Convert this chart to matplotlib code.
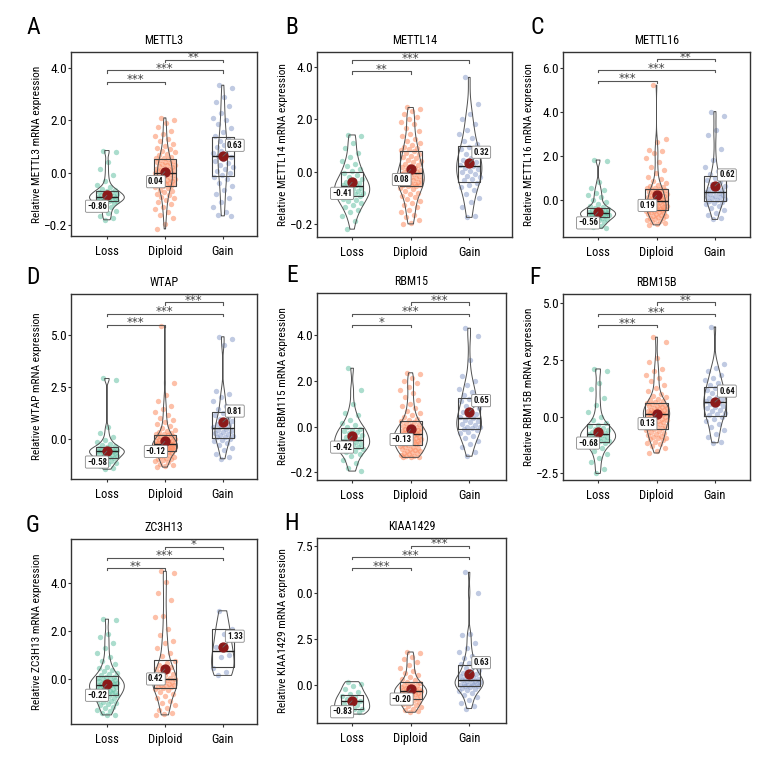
import numpy as np
import matplotlib
matplotlib.use("Agg")
import matplotlib.pyplot as plt
import matplotlib.font_manager as fm

# ---------------- data ----------------
groups = ["Loss", "Diploid", "Gain"]
genes = ["METTL3", "METTL14", "METTL16", "WTAP", "RBM15", "RBM15B", "ZC3H13", "KIAA1429"]
letters = ["A", "B", "C", "D", "E", "F", "G", "H"]
ylabels = ["Relative METTL3 mRNA expression", "Relative METTL14 mRNA expression",
           "Relative METTL16 mRNA expression", "Relative WTAP mRNA expression",
           "Relative RBM115 mRNA expression", "Relative RBM15B mRNA expression",
           "Relative ZC3H13 mRNA expression", "Relative KIAA1429 mRNA expression"]

METTL3_loss = [0.85, 0.78, 0.42, 0.15, -0.1, -0.3, -0.45, -0.55, -0.62, -0.66, -0.69, -0.72, -0.75, -0.78,
               -0.8, -0.83, -0.86, -0.88, -0.9, -0.92, -0.93, -0.95, -0.97, -0.99, -1.01, -1.03, -1.05, -1.07,
               -1.09, -1.12, -1.15, -1.2, -1.25, -1.3, -1.38, -1.45, -1.55, -1.65, -1.75, -1.8]
METTL3_diploid = [2.1, 2.0, 1.9, 1.75, 1.6, 1.5, 1.4, 1.3, 1.2, 1.1, 1.02, 0.95, 0.9, 0.84, 0.78, 0.72, 0.67, 0.62,
                  0.58, 0.55, 0.52, 0.49, 0.46, 0.43, 0.4, 0.37, 0.34, 0.31, 0.28, 0.25, 0.22, 0.19, 0.16, 0.14,
                  0.12, 0.1, 0.07, 0.05, 0.03, 0.01, -0.02, -0.04, -0.07, -0.1, -0.13, -0.16, -0.19, -0.22, -0.25,
                  -0.28, -0.3, -0.32, -0.34, -0.36, -0.38, -0.4, -0.42, -0.44, -0.46, -0.49, -0.52, -0.56, -0.6,
                  -0.65, -0.7, -0.75, -0.8, -0.86, -0.92, -0.98, -1.05, -1.12, -1.2, -1.3, -1.4, -1.5, -1.62,
                  -1.75, -1.95, -2.15]
METTL3_gain = [3.35, 3.25, 2.9, 2.7, 2.55, 2.3, 2.1, 2.0, 1.85, 1.7, 1.55, 1.42, 1.3, 1.22, 1.15, 1.05, 0.98, 0.9,
               0.82, 0.75, 0.7, 0.66, 0.6, 0.52, 0.45, 0.38, 0.3, 0.22, 0.15, 0.08, 0.0, -0.08, -0.15, -0.25,
               -0.38, -0.5, -0.65, -0.8, -0.95, -1.1, -1.3, -1.5, -1.6, -1.65]

METTL14_loss = [1.4, 1.35, 1.1, 0.9, 0.7, 0.55, 0.4, 0.3, 0.2, 0.1, 0.02, -0.05, -0.12, -0.2, -0.27, -0.33, -0.38,
                -0.42, -0.46, -0.5, -0.53, -0.57, -0.61, -0.65, -0.69, -0.73, -0.77, -0.81, -0.85, -0.89, -0.93,
                -0.98, -1.03, -1.08, -1.14, -1.2, -1.28, -1.36, -1.45, -1.55, -1.7, -1.9, -2.2]
METTL14_diploid = [2.45, 2.4, 2.3, 2.2, 2.1, 2.0, 1.9, 1.8, 1.65, 1.55, 1.45, 1.35, 1.25, 1.15, 1.08, 1.0, 0.95, 0.9,
                   0.85, 0.82, 0.78, 0.72, 0.66, 0.6, 0.55, 0.5, 0.45, 0.4, 0.35, 0.3, 0.26, 0.22, 0.18, 0.14, 0.1,
                   0.06, 0.03, 0.0, -0.02, -0.04, -0.08, -0.1, -0.13, -0.16, -0.19, -0.22, -0.25, -0.28, -0.31,
                   -0.34, -0.37, -0.4, -0.42, -0.44, -0.46, -0.48, -0.5, -0.51, -0.53, -0.54, -0.57, -0.62, -0.68,
                   -0.74, -0.8, -0.86, -0.92, -0.98, -1.05, -1.12, -1.2, -1.28, -1.36, -1.45, -1.55, -1.65, -1.75,
                   -1.85, -1.95, -2.0]
METTL14_gain = [3.6, 2.6, 2.2, 2.0, 1.8, 1.6, 1.45, 1.3, 1.15, 1.05, 0.95, 0.85, 0.75, 0.68, 0.6, 0.52, 0.45, 0.38,
                0.32, 0.26, 0.2, 0.15, 0.1, 0.04, -0.02, -0.08, -0.15, -0.22, -0.28, -0.34, -0.42, -0.5, -0.6,
                -0.72, -0.85, -1.0, -1.15, -1.35, -1.7, -1.75]

METTL16_loss = [1.8, 1.75, 0.8, 0.55, 0.45, 0.3, 0.2, 0.1, 0.0, -0.1, -0.2, -0.28, -0.34, -0.4, -0.43, -0.46, -0.49,
                -0.51, -0.53, -0.55, -0.57, -0.59, -0.6, -0.62, -0.64, -0.66, -0.68, -0.7, -0.72, -0.74, -0.76,
                -0.78, -0.8, -0.83, -0.86, -0.9, -0.94, -0.98, -1.02, -1.07, -1.12, -1.18, -1.25, -1.3]
METTL16_diploid = [5.2, 2.75, 2.6, 2.25, 2.2, 2.1, 1.9, 1.7, 1.5, 1.35, 1.2, 1.05, 0.95, 0.85, 0.75, 0.68, 0.62, 0.57,
                   0.53, 0.51, 0.48, 0.45, 0.42, 0.39, 0.36, 0.33, 0.3, 0.27, 0.24, 0.21, 0.18, 0.15, 0.12, 0.09,
                   0.06, 0.03, 0.01, -0.01, -0.03, -0.04, -0.07, -0.1, -0.13, -0.16, -0.19, -0.22, -0.25, -0.27,
                   -0.29, -0.31, -0.33, -0.35, -0.37, -0.39, -0.41, -0.42, -0.43, -0.44, -0.46, -0.47, -0.5, -0.52,
                   -0.55, -0.58, -0.61, -0.64, -0.67, -0.7, -0.73, -0.76, -0.79, -0.82, -0.85, -0.88, -0.92, -0.96,
                   -1.0, -1.05, -1.1, -1.15]
METTL16_gain = [4.0, 3.8, 3.15, 2.95, 2.3, 1.8, 1.5, 1.3, 1.15, 1.1, 1.0, 0.9, 0.8, 0.7, 0.62, 0.55, 0.48, 0.42,
                0.38, 0.35, 0.3, 0.26, 0.22, 0.18, 0.14, 0.1, 0.06, 0.02, -0.02, -0.06, -0.1, -0.15, -0.22, -0.3,
                -0.38, -0.48, -0.6, -0.72, -0.85, -0.9]

WTAP_loss = [2.9, 2.85, 0.55, 0.3, 0.1, -0.05, -0.15, -0.22, -0.28, -0.33, -0.4, -0.43, -0.46, -0.49, -0.51, -0.53,
             -0.55, -0.57, -0.58, -0.59, -0.61, -0.64, -0.67, -0.7, -0.73, -0.76, -0.79, -0.82, -0.85, -0.89, -0.93,
             -0.97, -1.01, -1.05, -1.1, -1.15, -1.22, -1.3, -1.38, -1.45]
WTAP_diploid = [5.4, 2.7, 2.1, 1.8, 1.6, 1.45, 1.3, 1.15, 1.0, 0.9, 0.8, 0.7, 0.6, 0.52, 0.45, 0.4, 0.35, 0.3, 0.26,
                0.23, 0.19, 0.16, 0.13, 0.1, 0.07, 0.04, 0.01, -0.02, -0.04, -0.06, -0.08, -0.1, -0.12, -0.14, -0.16,
                -0.18, -0.19, -0.2, -0.22, -0.23, -0.25, -0.27, -0.29, -0.31, -0.33, -0.35, -0.37, -0.38, -0.4,
                -0.41, -0.43, -0.44, -0.46, -0.47, -0.49, -0.5, -0.52, -0.53, -0.54, -0.55, -0.58, -0.6, -0.63,
                -0.66, -0.69, -0.72, -0.75, -0.78, -0.82, -0.86, -0.9, -0.94, -0.98, -1.02, -1.07, -1.12, -1.18,
                -1.24, -1.3, -1.35]
WTAP_gain = [4.9, 4.8, 4.5, 2.3, 2.15, 2.0, 1.8, 1.6, 1.45, 1.33, 1.25, 1.15, 1.05, 0.95, 0.88, 0.8, 0.72, 0.65,
             0.6, 0.55, 0.5, 0.45, 0.4, 0.35, 0.3, 0.25, 0.2, 0.15, 0.1, 0.07, 0.02, -0.05, -0.12, -0.2, -0.3, -0.42,
             -0.55, -0.7, -0.85, -0.95]

RBM15_loss = [2.55, 1.6, 1.0, 0.6, 0.5, 0.3, 0.15, 0.05, -0.03, -0.1, -0.15, -0.2, -0.25, -0.3, -0.36, -0.42, -0.48,
              -0.54, -0.6, -0.64, -0.68, -0.72, -0.76, -0.8, -0.84, -0.88, -0.92, -0.98, -1.05, -1.12, -1.2, -1.3,
              -1.45, -1.6, -1.8, -1.95]
RBM15_diploid = [2.35, 2.3, 2.1, 2.0, 1.9, 1.75, 1.6, 1.45, 1.3, 1.15, 1.0, 0.9, 0.8, 0.7, 0.6, 0.5, 0.42, 0.35, 0.3,
                 0.25, 0.2, 0.16, 0.12, 0.08, 0.04, 0.0, -0.04, -0.07, -0.1, -0.13, -0.16, -0.18, -0.2, -0.22, -0.24,
                 -0.26, -0.28, -0.3, -0.31, -0.33, -0.36, -0.39, -0.42, -0.45, -0.48, -0.5, -0.52, -0.54, -0.56,
                 -0.58, -0.6, -0.62, -0.64, -0.66, -0.68, -0.7, -0.72, -0.74, -0.76, -0.78, -0.82, -0.85, -0.88,
                 -0.91, -0.94, -0.97, -1.0, -1.03, -1.06, -1.09, -1.12, -1.15, -1.18, -1.21, -1.24, -1.27, -1.3,
                 -1.32, -1.34, -1.35]
RBM15_gain = [4.3, 3.95, 2.9, 2.2, 2.0, 1.8, 1.65, 1.5, 1.38, 1.28, 1.2, 1.1, 1.0, 0.9, 0.8, 0.7, 0.62, 0.55, 0.48,
              0.42, 0.36, 0.3, 0.24, 0.18, 0.12, 0.06, 0.0, -0.04, -0.08, -0.1, -0.15, -0.22, -0.3, -0.4, -0.5,
              -0.62, -0.75, -0.9, -1.1, -1.3]

RBM15B_loss = [2.1, 2.0, 1.5, 1.2, 0.8, 0.5, 0.2, 0.0, -0.15, -0.28, -0.38, -0.43, -0.48, -0.53, -0.58, -0.62, -0.66,
               -0.7, -0.73, -0.76, -0.8, -0.84, -0.88, -0.92, -0.96, -1.0, -1.03, -1.06, -1.09, -1.11, -1.16, -1.22,
               -1.3, -1.4, -1.52, -1.65, -1.8, -2.0, -2.3, -2.5]
RBM15B_diploid = [3.5, 3.3, 2.6, 2.4, 2.1, 2.0, 1.85, 1.7, 1.55, 1.4, 1.25, 1.12, 1.0, 0.92, 0.85, 0.78, 0.72, 0.67,
                  0.63, 0.6, 0.57, 0.54, 0.51, 0.48, 0.45, 0.42, 0.39, 0.36, 0.33, 0.3, 0.28, 0.26, 0.24, 0.22, 0.2,
                  0.18, 0.16, 0.14, 0.12, 0.11, 0.09, 0.06, 0.03, 0.0, -0.03, -0.06, -0.09, -0.12, -0.15, -0.18,
                  -0.21, -0.24, -0.27, -0.3, -0.33, -0.36, -0.4, -0.44, -0.48, -0.52, -0.56, -0.6, -0.64, -0.68,
                  -0.72, -0.76, -0.8, -0.84, -0.88, -0.92, -0.96, -1.0, -1.05, -1.1, -1.16, -1.22, -1.3, -1.4, -1.5,
                  -1.6]
RBM15B_gain = [3.95, 2.3, 2.15, 2.0, 1.85, 1.72, 1.6, 1.5, 1.4, 1.32, 1.25, 1.18, 1.1, 1.02, 0.95, 0.88, 0.82, 0.76,
               0.72, 0.68, 0.62, 0.55, 0.48, 0.42, 0.36, 0.3, 0.24, 0.18, 0.12, 0.07, 0.0, -0.1, -0.2, -0.32, -0.45,
               -0.6, -0.75, -0.9, -1.1, -1.15]

ZC3H13_loss = [2.5, 2.45, 1.9, 1.75, 1.5, 1.3, 1.1, 0.9, 0.75, 0.62, 0.52, 0.45, 0.38, 0.32, 0.26, 0.2, 0.16, 0.1,
               0.07, 0.04, 0.01, -0.02, -0.05, -0.08, -0.1, -0.12, -0.14, -0.16, -0.18, -0.2, -0.22, -0.23, -0.24,
               -0.27, -0.3, -0.33, -0.36, -0.39, -0.42, -0.45, -0.48, -0.5, -0.52, -0.54, -0.56, -0.58, -0.6, -0.63,
               -0.65, -0.7, -0.74, -0.78, -0.82, -0.86, -0.9, -0.95, -1.0, -1.05, -1.1, -1.16, -1.22, -1.28, -1.35,
               -1.42, -1.5, -1.5]
ZC3H13_diploid = [4.5, 4.45, 4.05, 3.6, 3.3, 2.65, 2.6, 2.1, 1.85, 1.6, 1.5, 1.3, 1.1, 0.95, 0.75, 0.68, 0.6, 0.52,
                  0.45, 0.4, 0.34, 0.28, 0.22, 0.16, 0.1, 0.06, 0.03, -0.02, -0.05, -0.08, -0.11, -0.14, -0.17, -0.2,
                  -0.23, -0.26, -0.29, -0.32, -0.35, -0.37, -0.42, -0.48, -0.55, -0.62, -0.7, -0.8, -0.9, -1.0,
                  -1.1, -1.2, -1.3, -1.4, -1.45, -1.5]
ZC3H13_gain = [2.85, 2.1, 1.9, 1.35, 1.0, 0.9, 0.45, 0.3, 0.15]

KIAA1429_loss = [0.2, 0.1, -0.05, -0.2, -0.35, -0.48, -0.55, -0.65, -0.75, -0.82, -0.9, -0.98, -1.05, -1.15, -1.25,
                 -1.3, -1.38, -1.45, -1.5, -1.55]
KIAA1429_diploid = [1.8, 1.75, 1.55, 1.4, 1.25, 1.1, 0.95, 0.8, 0.68, 0.55, 0.45, 0.35, 0.27, 0.2, 0.12, 0.08, 0.04,
                    0.0, -0.04, -0.08, -0.12, -0.15, -0.18, -0.21, -0.24, -0.26, -0.28, -0.31, -0.34, -0.37, -0.4,
                    -0.43, -0.46, -0.49, -0.52, -0.55, -0.58, -0.62, -0.66, -0.7, -0.75, -0.8, -0.85, -0.9, -0.95,
                    -1.0, -1.05, -1.1, -1.18, -1.26, -1.34, -1.4, -1.45]
KIAA1429_gain = [6.1, 5.0, 2.75, 2.7, 2.3, 2.0, 1.8, 1.6, 1.45, 1.3, 1.2, 1.15, 1.05, 0.95, 0.85, 0.76, 0.68, 0.6,
                 0.54, 0.48, 0.43, 0.38, 0.34, 0.32, 0.29, 0.25, 0.21, 0.17, 0.13, 0.1, 0.07, 0.04, 0.02, 0.0, -0.02,
                 -0.04, -0.08, -0.12, -0.18, -0.25, -0.32, -0.42, -0.52, -0.65, -0.8, -0.95, -1.1, -1.25]

values = [
    [METTL3_loss, METTL3_diploid, METTL3_gain],
    [METTL14_loss, METTL14_diploid, METTL14_gain],
    [METTL16_loss, METTL16_diploid, METTL16_gain],
    [WTAP_loss, WTAP_diploid, WTAP_gain],
    [RBM15_loss, RBM15_diploid, RBM15_gain],
    [RBM15B_loss, RBM15B_diploid, RBM15B_gain],
    [ZC3H13_loss, ZC3H13_diploid, ZC3H13_gain],
    [KIAA1429_loss, KIAA1429_diploid, KIAA1429_gain],
]

means = [[-0.86, 0.04, 0.63], [-0.41, 0.08, 0.32], [-0.56, 0.19, 0.62], [-0.58, -0.12, 0.81],
         [-0.42, -0.13, 0.65], [-0.68, 0.13, 0.64], [-0.22, 0.42, 1.33], [-0.83, -0.20, 0.63]]
mean_labels = [["−0.86", "0.04", "0.63"], ["−0.41", "0.08", "0.32"], ["−0.56", "0.19", "0.62"],
               ["−0.58", "−0.12", "0.81"], ["−0.42", "−0.13", "0.65"], ["−0.68", "0.13", "0.64"],
               ["−0.22", "0.42", "1.33"], ["−0.83", "−0.20", "0.63"]]
q1s = [[-1.08, -0.5, -0.12], [-0.95, -0.55, -0.38], [-0.8, -0.48, -0.08], [-0.91, -0.56, 0.05],
       [-0.95, -0.8, -0.12], [-1.13, -0.54, 0.04], [-0.67, -0.39, 0.49], [-1.28, -0.72, -0.05]]
medians = [[-0.92, 0.0, 0.65], [-0.55, -0.06, 0.23], [-0.6, -0.05, 0.33], [-0.59, -0.24, 0.53],
           [-0.58, -0.34, 0.39], [-0.78, 0.1, 0.66], [-0.25, 0.0, 1.17], [-0.86, -0.29, 0.31]]
q3s = [[-0.69, 0.54, 1.35], [-0.03, 0.8, 0.99], [-0.38, 0.5, 1.09], [-0.38, 0.21, 1.29],
       [-0.07, 0.22, 1.24], [-0.34, 0.59, 1.29], [0.13, 0.79, 2.08], [-0.5, 0.16, 1.12]]

ytick_vals = [[4, 2, 0, -2], [4, 2, 0, -2], [6, 4, 2, 0], [5, 2.5, 0], [4, 2, 0, -2],
              [5, 2.5, 0, -2.5], [4, 2, 0], [7.5, 5, 2.5, 0]]
ytick_labels = [["4.0", "2.0", "0.0", "−0.2"], ["4.0", "2.0", "0.0", "−0.2"], ["6.0", "4.0", "2.0", "0.0"],
                ["5.0", "2.5", "0.0"], ["4.0", "2.0", "0.0", "−0.2"], ["5.0", "2.5", "0.0", "−2.5"],
                ["4.0", "2.0", "0.0"], ["7.5", "0.0", "2.5", "0.0"]]
ylims = [(-2.42, 4.62), (-2.5, 4.57), (-1.7, 6.71), (-1.92, 6.95), (-2.34, 5.84), (-2.79, 5.4),
         (-1.88, 5.85), (-2.03, 7.95)]

sig_pairs = [[(0, 1), (0, 2), (1, 2)], [(0, 1), (0, 2)], [(0, 1), (0, 2), (1, 2)], [(0, 1), (0, 2), (1, 2)],
             [(0, 1), (0, 2), (1, 2)], [(0, 1), (0, 2), (1, 2)], [(0, 1), (0, 2), (1, 2)],
             [(0, 1), (0, 2), (1, 2)]]
sig_labels = [["***", "***", "**"], ["**", "***"], ["***", "***", "**"], ["***", "***", "***"],
              ["*", "***", "***"], ["***", "***", "**"], ["**", "***", "*"], ["***", "***", "***"]]
sig_y = [[3.49, 3.92, 4.32], [3.83, 4.25], [5.4, 5.88, 6.39], [5.48, 6.0, 6.55], [4.45, 4.93, 5.43],
         [4.03, 4.51, 5.03], [4.63, 5.07, 5.53], [6.33, 6.92, 7.53]]

# ---------------- style / layout ----------------
point_colors = ["#66c2a5", "#fc8d62", "#8da0cb"]
mean_color = "#8B1A1A"

names = {f.name for f in fm.fontManager.ttflist}
cond_family = "DejaVu Sans"
for cand in ["Liberation Sans Narrow", "Roboto Condensed", "Open Sans Condensed"]:
    if cand in names:
        cond_family = cand
        break

plt.rcParams["font.family"] = [cond_family, "DejaVu Sans"]

# axes rectangles in pixels (left, top, right, bottom) of 780x780 canvas
px_boxes = [(71, 52, 257, 236), (317, 52, 512, 237), (563, 52, 750, 237),
            (71, 294, 257, 479), (317, 293, 506, 480), (563, 294, 750, 480),
            (71, 539, 257, 724), (317, 538, 506, 723)]
xlims = [(-0.62, 2.59), (-0.6, 2.73), (-0.6, 2.6), (-0.62, 2.59), (-0.6, 2.63), (-0.6, 2.6),
         (-0.62, 2.59), (-0.6, 2.63)]
letter_px = [(33, 27), (292, 27), (537, 27), (33, 277), (292, 275), (535, 277), (33, 525), (292, 523)]
label_offsets = [(-10, -11), (-9, -10), (12, 11)]
ylabel_dx = 34  # pixels left of the axes for the y label centre

W = H = 780
fig = plt.figure(figsize=(7.8, 7.8), dpi=100)


def kde(vals, grid):
    v = np.asarray(vals, float)
    n = len(v)
    sd = v.std(ddof=1)
    iqr = np.subtract(*np.percentile(v, [75, 25]))
    s = min(sd, iqr / 1.34) if iqr > 0 else sd
    bw = 0.9 * s * n ** -0.2
    z = (grid[:, None] - v[None, :]) / bw
    return np.exp(-0.5 * z ** 2).sum(1) / (n * bw * np.sqrt(2 * np.pi))


for p in range(8):
    l, t, r, b = px_boxes[p]
    ax = fig.add_axes([l / W, 1 - b / H, (r - l) / W, (b - t) / H])
    data = values[p]

    # violins (area-scaled, trimmed)
    grids, dens = [], []
    for g in range(3):
        v = np.asarray(data[g], float)
        grid = np.linspace(v.min(), v.max(), 300)
        grids.append(grid)
        dens.append(kde(v, grid))
    dmax = max(d.max() for d in dens)
    for g in range(3):
        w = dens[g] / dmax * 0.30
        ax.fill_betweenx(grids[g], g - w, g + w, facecolor="none", edgecolor="#505050", lw=0.7, zorder=3)

    # jittered points
    for g in range(3):
        v = np.asarray(data[g], float)
        n = len(v)
        offs = ((np.arange(n) * 0.6180339887 + 0.31) % 1.0 - 0.5) * 2 * 0.18
        ax.scatter(g + offs, v, s=15, color=point_colors[g], alpha=0.55, linewidths=0, zorder=2)

    # boxes (no whiskers)
    stats = [dict(med=medians[p][g], q1=q1s[p][g], q3=q3s[p][g], whislo=q1s[p][g], whishi=q3s[p][g],
                  fliers=[]) for g in range(3)]
    ax.bxp(stats, positions=[0, 1, 2], widths=0.38, showcaps=False, showfliers=False,
           boxprops=dict(color="#444444", lw=0.8), medianprops=dict(color="#222222", lw=1.0),
           whiskerprops=dict(lw=0), manage_ticks=False, zorder=4)

    # means and labels
    for g in range(3):
        ax.plot([g], [means[p][g]], marker="o", ms=6.4, color=mean_color, zorder=6, ls="none")
        ax.annotate(mean_labels[p][g], xy=(g, means[p][g]), xytext=label_offsets[g],
                    textcoords="offset pixels", ha="center", va="center", fontsize=6.3, fontweight="bold",
                    color="#111111",
                    bbox=dict(boxstyle="round,pad=0.18,rounding_size=0.15", fc="white", ec="#888888", lw=0.6),
                    arrowprops=dict(arrowstyle="-", color="#666666", lw=0.6, shrinkA=0, shrinkB=0),
                    zorder=7)

    # significance brackets
    y0, y1 = ylims[p]
    drop = (y1 - y0) * 0.012
    for (i, j), lab, yy in zip(sig_pairs[p], sig_labels[p], sig_y[p]):
        ax.plot([i, i, j, j], [yy - drop, yy, yy, yy - drop], color="#555555", lw=0.8, zorder=5)
        ax.annotate(lab, xy=((i + j) / 2, yy), xytext=(0, 2), textcoords="offset pixels",
                    ha="center", va="center", fontsize=8.5, color="#444444", family="DejaVu Sans", zorder=5)

    ax.set_xlim(*xlims[p])
    ax.set_ylim(*ylims[p])
    ax.set_xticks([0, 1, 2])
    ax.set_xticklabels(groups, fontsize=9)
    ax.set_yticks(ytick_vals[p])
    ax.set_yticklabels(ytick_labels[p], fontsize=9.5)
    ax.tick_params(length=2, width=0.8, color="#333333", pad=1)
    ax.tick_params(axis="x", length=2.5, pad=4)
    ax.set_ylabel(ylabels[p], fontsize=8.2, va="center")
    ax.yaxis.set_label_coords(-ylabel_dx / (r - l), 0.5)
    ax.set_title(genes[p], fontsize=8.7, pad=6)
    for sp in ax.spines.values():
        sp.set_color("#333333")
        sp.set_linewidth(1.0)

    lx, ly = letter_px[p]
    fig.text(lx / W, 1 - ly / H, letters[p], fontsize=17, ha="center", va="center")

fig.savefig("out.png", dpi=100, facecolor="white")
